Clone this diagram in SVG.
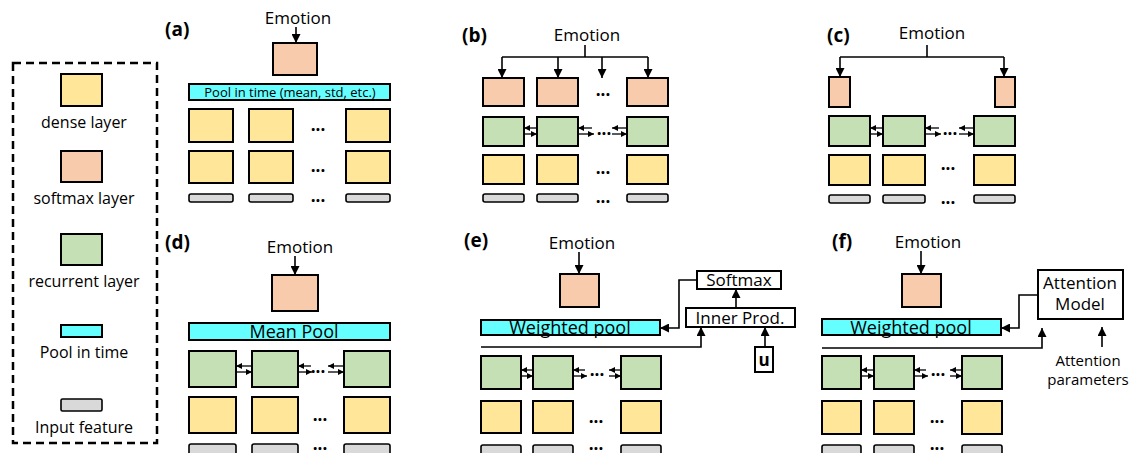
<svg xmlns="http://www.w3.org/2000/svg" width="1135" height="453" viewBox="0 0 1135 453">
<defs>
<style>
.d{fill:#FFE699;stroke:#000;stroke-width:2}
.s{fill:#F8CBAD;stroke:#000;stroke-width:2}
.r{fill:#C5E0B4;stroke:#000;stroke-width:2}
.p{fill:#66FFFF;stroke:#000;stroke-width:2}
.g{fill:#D9D9D9;stroke:#000;stroke-width:1.6}
.w{fill:#fff;stroke:#000;stroke-width:2}
.t{font-family:"Open Sans","Liberation Sans",sans-serif;fill:#000;text-anchor:middle}
.lb{font-family:"Open Sans","Liberation Sans",sans-serif;font-weight:bold;font-size:19px;fill:#000}
.dots{font-family:"Open Sans","Liberation Sans",sans-serif;font-weight:bold;font-size:17px;fill:#000;text-anchor:middle}
.c{fill:none;stroke:#000;stroke-width:1.6}
.ca{fill:none;stroke:#000;stroke-width:1.6;marker-end:url(#ah)}
.cs{fill:none;stroke:#000;stroke-width:1.3;marker-end:url(#as)}
</style>
<marker id="ah" markerUnits="userSpaceOnUse" markerWidth="9" markerHeight="9" refX="9" refY="4.5" orient="auto"><path d="M0,0 L9,4.5 L0,9 z" fill="#000"/></marker>
<marker id="as" markerUnits="userSpaceOnUse" markerWidth="6" markerHeight="6" refX="6" refY="3" orient="auto"><path d="M0,0 L6,3 L0,6 z" fill="#000"/></marker>
</defs>
<rect width="1135" height="453" fill="#fff"/>

<!-- Legend -->
<g id="legend">
<rect x="13" y="63" width="144" height="380" fill="none" stroke="#000" stroke-width="2.5" stroke-dasharray="8,5"/>
<rect class="d" x="61" y="74" width="41" height="32"/>
<text class="t" x="84" y="128" font-size="16">dense layer</text>
<rect class="s" x="61" y="151" width="41" height="31"/>
<text class="t" x="84" y="204" font-size="16">softmax layer</text>
<rect class="r" x="61" y="234" width="41" height="31"/>
<text class="t" x="84" y="287" font-size="16">recurrent layer</text>
<rect class="p" x="61" y="325" width="41" height="12"/>
<text class="t" x="84" y="358" font-size="16">Pool in time</text>
<rect class="g" x="61" y="399" width="41" height="12" rx="1.5"/>
<text class="t" x="84" y="433" font-size="16">Input feature</text>
</g>

<!-- Panel labels and texts -->
<g id="labels">
<text class="lb" x="165" y="36">(a)</text>
<text class="lb" x="462" y="42">(b)</text>
<text class="lb" x="827" y="42">(c)</text>
<text class="lb" x="165" y="249">(d)</text>
<text class="lb" x="464" y="247">(e)</text>
<text class="lb" x="832" y="248">(f)</text>
<text class="t" x="298" y="24" font-size="17">Emotion</text>
<text class="t" x="587" y="41" font-size="17">Emotion</text>
<text class="t" x="932" y="39" font-size="17">Emotion</text>
<text class="t" x="300" y="253" font-size="17">Emotion</text>
<text class="t" x="582" y="249" font-size="17">Emotion</text>
<text class="t" x="928" y="248" font-size="17">Emotion</text>
<text class="t" x="1088" y="366" font-size="15">Attention</text>
<text class="t" x="1088" y="385" font-size="15">parameters</text>
</g>

<!-- Panel (a) nodes -->
<g id="a-softmax"><rect class="s" x="273" y="43" width="44" height="32"/></g>
<g id="a-pool"><rect class="p" x="189" y="84" width="201" height="16"/><text class="t" x="290" y="97" font-size="13">Pool in time (mean, std, etc.)</text></g>
<g id="a-dense1"><rect class="d" x="189" y="109" width="44" height="33"/><rect class="d" x="249" y="109" width="44" height="33"/><rect class="d" x="346" y="109" width="44" height="33"/><text class="dots" x="318" y="131">...</text></g>
<g id="a-dense2"><rect class="d" x="189" y="151" width="44" height="32"/><rect class="d" x="249" y="151" width="44" height="32"/><rect class="d" x="346" y="151" width="44" height="32"/><text class="dots" x="318" y="172">...</text></g>
<g id="a-input"><rect class="g" x="189" y="194" width="44" height="8" rx="2"/><rect class="g" x="249" y="194" width="44" height="8" rx="2"/><rect class="g" x="346" y="194" width="44" height="8" rx="2"/><text class="dots" x="318" y="202">...</text></g>

<!-- Panel (b) nodes -->
<g id="b-softmax"><rect class="s" x="483" y="78" width="41" height="28"/><rect class="s" x="537" y="78" width="41" height="28"/><rect class="s" x="627" y="78" width="41" height="28"/><text class="dots" x="603" y="96">...</text></g>
<g id="b-rec"><rect class="r" x="483" y="117" width="41" height="29"/><rect class="r" x="537" y="117" width="41" height="29"/><rect class="r" x="627" y="117" width="41" height="29"/><text class="dots" x="604" y="135">...</text></g>
<g id="b-dense"><rect class="d" x="483" y="155" width="41" height="29"/><rect class="d" x="537" y="155" width="41" height="29"/><rect class="d" x="627" y="155" width="41" height="29"/><text class="dots" x="603" y="174">...</text></g>
<g id="b-input"><rect class="g" x="483" y="194" width="41" height="8" rx="2"/><rect class="g" x="537" y="194" width="41" height="8" rx="2"/><rect class="g" x="627" y="194" width="41" height="8" rx="2"/><text class="dots" x="603" y="203">...</text></g>

<!-- Panel (c) nodes -->
<g id="c-softmax"><rect class="s" x="829" y="77" width="21" height="30"/><rect class="s" x="995" y="77" width="20" height="30"/></g>
<g id="c-rec"><rect class="r" x="829" y="116" width="41" height="30"/><rect class="r" x="883" y="116" width="42" height="30"/><rect class="r" x="974" y="116" width="41" height="30"/><text class="dots" x="950" y="135">...</text></g>
<g id="c-dense"><rect class="d" x="829" y="155" width="41" height="30"/><rect class="d" x="883" y="155" width="42" height="30"/><rect class="d" x="974" y="155" width="41" height="30"/><text class="dots" x="948" y="170">...</text></g>
<g id="c-input"><rect class="g" x="829" y="195" width="41" height="8" rx="2"/><rect class="g" x="883" y="195" width="42" height="8" rx="2"/><rect class="g" x="974" y="195" width="41" height="8" rx="2"/><text class="dots" x="948" y="204">...</text></g>

<!-- Panel (d) nodes -->
<g id="d-softmax"><rect class="s" x="272" y="275" width="46" height="36"/></g>
<g id="d-pool"><rect class="p" x="189" y="323" width="201" height="17"/><text class="t" x="294" y="338" font-size="18">Mean Pool</text></g>
<g id="d-rec"><rect class="r" x="189" y="351" width="47" height="36"/><rect class="r" x="252" y="351" width="46" height="36"/><rect class="r" x="344" y="351" width="46" height="36"/><text class="dots" x="318" y="373">...</text></g>
<g id="d-dense"><rect class="d" x="189" y="397" width="47" height="36"/><rect class="d" x="252" y="397" width="46" height="36"/><rect class="d" x="344" y="397" width="46" height="36"/><text class="dots" x="320" y="421">...</text></g>
<g id="d-input"><rect class="g" x="189" y="444" width="47" height="14" rx="2"/><rect class="g" x="252" y="444" width="46" height="14" rx="2"/><rect class="g" x="344" y="444" width="46" height="14" rx="2"/><text class="dots" x="320" y="450">...</text></g>

<!-- Panel (e) nodes -->
<g id="e-softmax"><rect class="s" x="560" y="274" width="39" height="33"/></g>
<g id="e-pool"><rect class="p" x="481" y="320" width="179" height="15"/><text class="t" x="570" y="334" font-size="18">Weighted pool</text></g>
<g id="e-sm"><rect class="w" x="697" y="271" width="84" height="18"/><text class="t" x="739" y="286" font-size="17">Softmax</text></g>
<g id="e-ip"><rect class="w" x="686" y="308" width="109" height="19"/><text class="t" x="740" y="324" font-size="17">Inner Prod.</text></g>
<g id="e-u"><rect class="w" x="755" y="347" width="18" height="25"/><text class="t" x="764" y="366" font-size="17" font-weight="bold">u</text></g>
<g id="e-rec"><rect class="r" x="481" y="356" width="40" height="33"/><rect class="r" x="533" y="356" width="40" height="33"/><rect class="r" x="621" y="356" width="40" height="33"/><text class="dots" x="597" y="376">...</text></g>
<g id="e-dense"><rect class="d" x="481" y="401" width="40" height="32"/><rect class="d" x="533" y="401" width="40" height="32"/><rect class="d" x="621" y="401" width="40" height="32"/><text class="dots" x="596" y="423">...</text></g>
<g id="e-input"><rect class="g" x="481" y="445" width="40" height="14" rx="2"/><rect class="g" x="533" y="445" width="40" height="14" rx="2"/><rect class="g" x="621" y="445" width="40" height="14" rx="2"/><text class="dots" x="596" y="450">...</text></g>

<!-- Panel (f) nodes -->
<g id="f-softmax"><rect class="s" x="902" y="274" width="39" height="33"/></g>
<g id="f-pool"><rect class="p" x="822" y="319" width="179" height="16"/><text class="t" x="911" y="334" font-size="18">Weighted pool</text></g>
<g id="f-att"><rect class="w" x="1038" y="270" width="85" height="49"/><text class="t" x="1080" y="289" font-size="17">Attention</text><text class="t" x="1080" y="310" font-size="17">Model</text></g>
<g id="f-rec"><rect class="r" x="822" y="356" width="39" height="33"/><rect class="r" x="874" y="356" width="40" height="33"/><rect class="r" x="962" y="356" width="40" height="33"/><text class="dots" x="938" y="376">...</text></g>
<g id="f-dense"><rect class="d" x="822" y="401" width="39" height="33"/><rect class="d" x="874" y="401" width="40" height="33"/><rect class="d" x="962" y="401" width="40" height="33"/><text class="dots" x="937" y="423">...</text></g>
<g id="f-input"><rect class="g" x="822" y="445" width="39" height="14" rx="2"/><rect class="g" x="874" y="445" width="40" height="14" rx="2"/><rect class="g" x="962" y="445" width="40" height="14" rx="2"/><text class="dots" x="937" y="450">...</text></g>

<!-- Connectors -->
<g id="connectors">
<line class="ca" x1="296" y1="27" x2="296" y2="43"/>
<polyline class="c" points="585,45 585,57"/>
<polyline class="c" points="502,57 648,57"/>
<line class="ca" x1="502" y1="57" x2="502" y2="78"/>
<line class="ca" x1="558" y1="57" x2="558" y2="78"/>
<line class="ca" x1="602" y1="57" x2="602" y2="78"/>
<line class="ca" x1="648" y1="57" x2="648" y2="78"/>
<line class="cs" x1="537" y1="128" x2="524" y2="128"/>
<line class="cs" x1="524" y1="134" x2="537" y2="134"/>
<line class="cs" x1="592" y1="128" x2="578" y2="128"/>
<line class="cs" x1="578" y1="134" x2="594" y2="134"/>
<line class="cs" x1="627" y1="128" x2="612" y2="128"/>
<line class="cs" x1="612" y1="134" x2="627" y2="134"/>
<polyline class="c" points="927,45 927,57"/>
<polyline class="c" points="840,57 1004,57"/>
<line class="ca" x1="840" y1="57" x2="840" y2="77"/>
<line class="ca" x1="1004" y1="57" x2="1004" y2="77"/>
<line class="cs" x1="883" y1="128" x2="870" y2="128"/>
<line class="cs" x1="870" y1="134" x2="883" y2="134"/>
<line class="cs" x1="939" y1="128" x2="925" y2="128"/>
<line class="cs" x1="925" y1="134" x2="941" y2="134"/>
<line class="cs" x1="974" y1="128" x2="959" y2="128"/>
<line class="cs" x1="959" y1="134" x2="974" y2="134"/>
<line class="ca" x1="295" y1="256" x2="295" y2="275"/>
<line class="cs" x1="252" y1="366" x2="236" y2="366"/>
<line class="cs" x1="236" y1="372" x2="252" y2="372"/>
<line class="cs" x1="311" y1="366" x2="298" y2="366"/>
<line class="cs" x1="298" y1="372" x2="312" y2="372"/>
<line class="cs" x1="344" y1="366" x2="328" y2="366"/>
<line class="cs" x1="328" y1="372" x2="344" y2="372"/>
<line class="ca" x1="579" y1="252" x2="579" y2="274"/>
<polyline class="ca" points="481,347 701,347 701,327"/>
<line class="ca" x1="736" y1="308" x2="736" y2="289"/>
<polyline class="ca" points="697,280 679,280 679,328 660,328"/>
<line class="ca" x1="765" y1="347" x2="765" y2="327"/>
<line class="cs" x1="533" y1="370" x2="521" y2="370"/>
<line class="cs" x1="521" y1="376" x2="533" y2="376"/>
<line class="cs" x1="585" y1="370" x2="573" y2="370"/>
<line class="cs" x1="573" y1="376" x2="587" y2="376"/>
<line class="cs" x1="621" y1="370" x2="609" y2="370"/>
<line class="cs" x1="609" y1="376" x2="621" y2="376"/>
<line class="ca" x1="921" y1="251" x2="921" y2="274"/>
<polyline class="ca" points="822,348 1042,348 1042,328"/>
<polyline class="ca" points="1038,295 1019,295 1019,328 1001,328"/>
<line class="ca" x1="1102" y1="347" x2="1102" y2="327"/>
<line class="cs" x1="874" y1="370" x2="861" y2="370"/>
<line class="cs" x1="861" y1="376" x2="874" y2="376"/>
<line class="cs" x1="926" y1="370" x2="914" y2="370"/>
<line class="cs" x1="914" y1="376" x2="928" y2="376"/>
<line class="cs" x1="962" y1="370" x2="950" y2="370"/>
<line class="cs" x1="950" y1="376" x2="962" y2="376"/>
</g>
</svg>
